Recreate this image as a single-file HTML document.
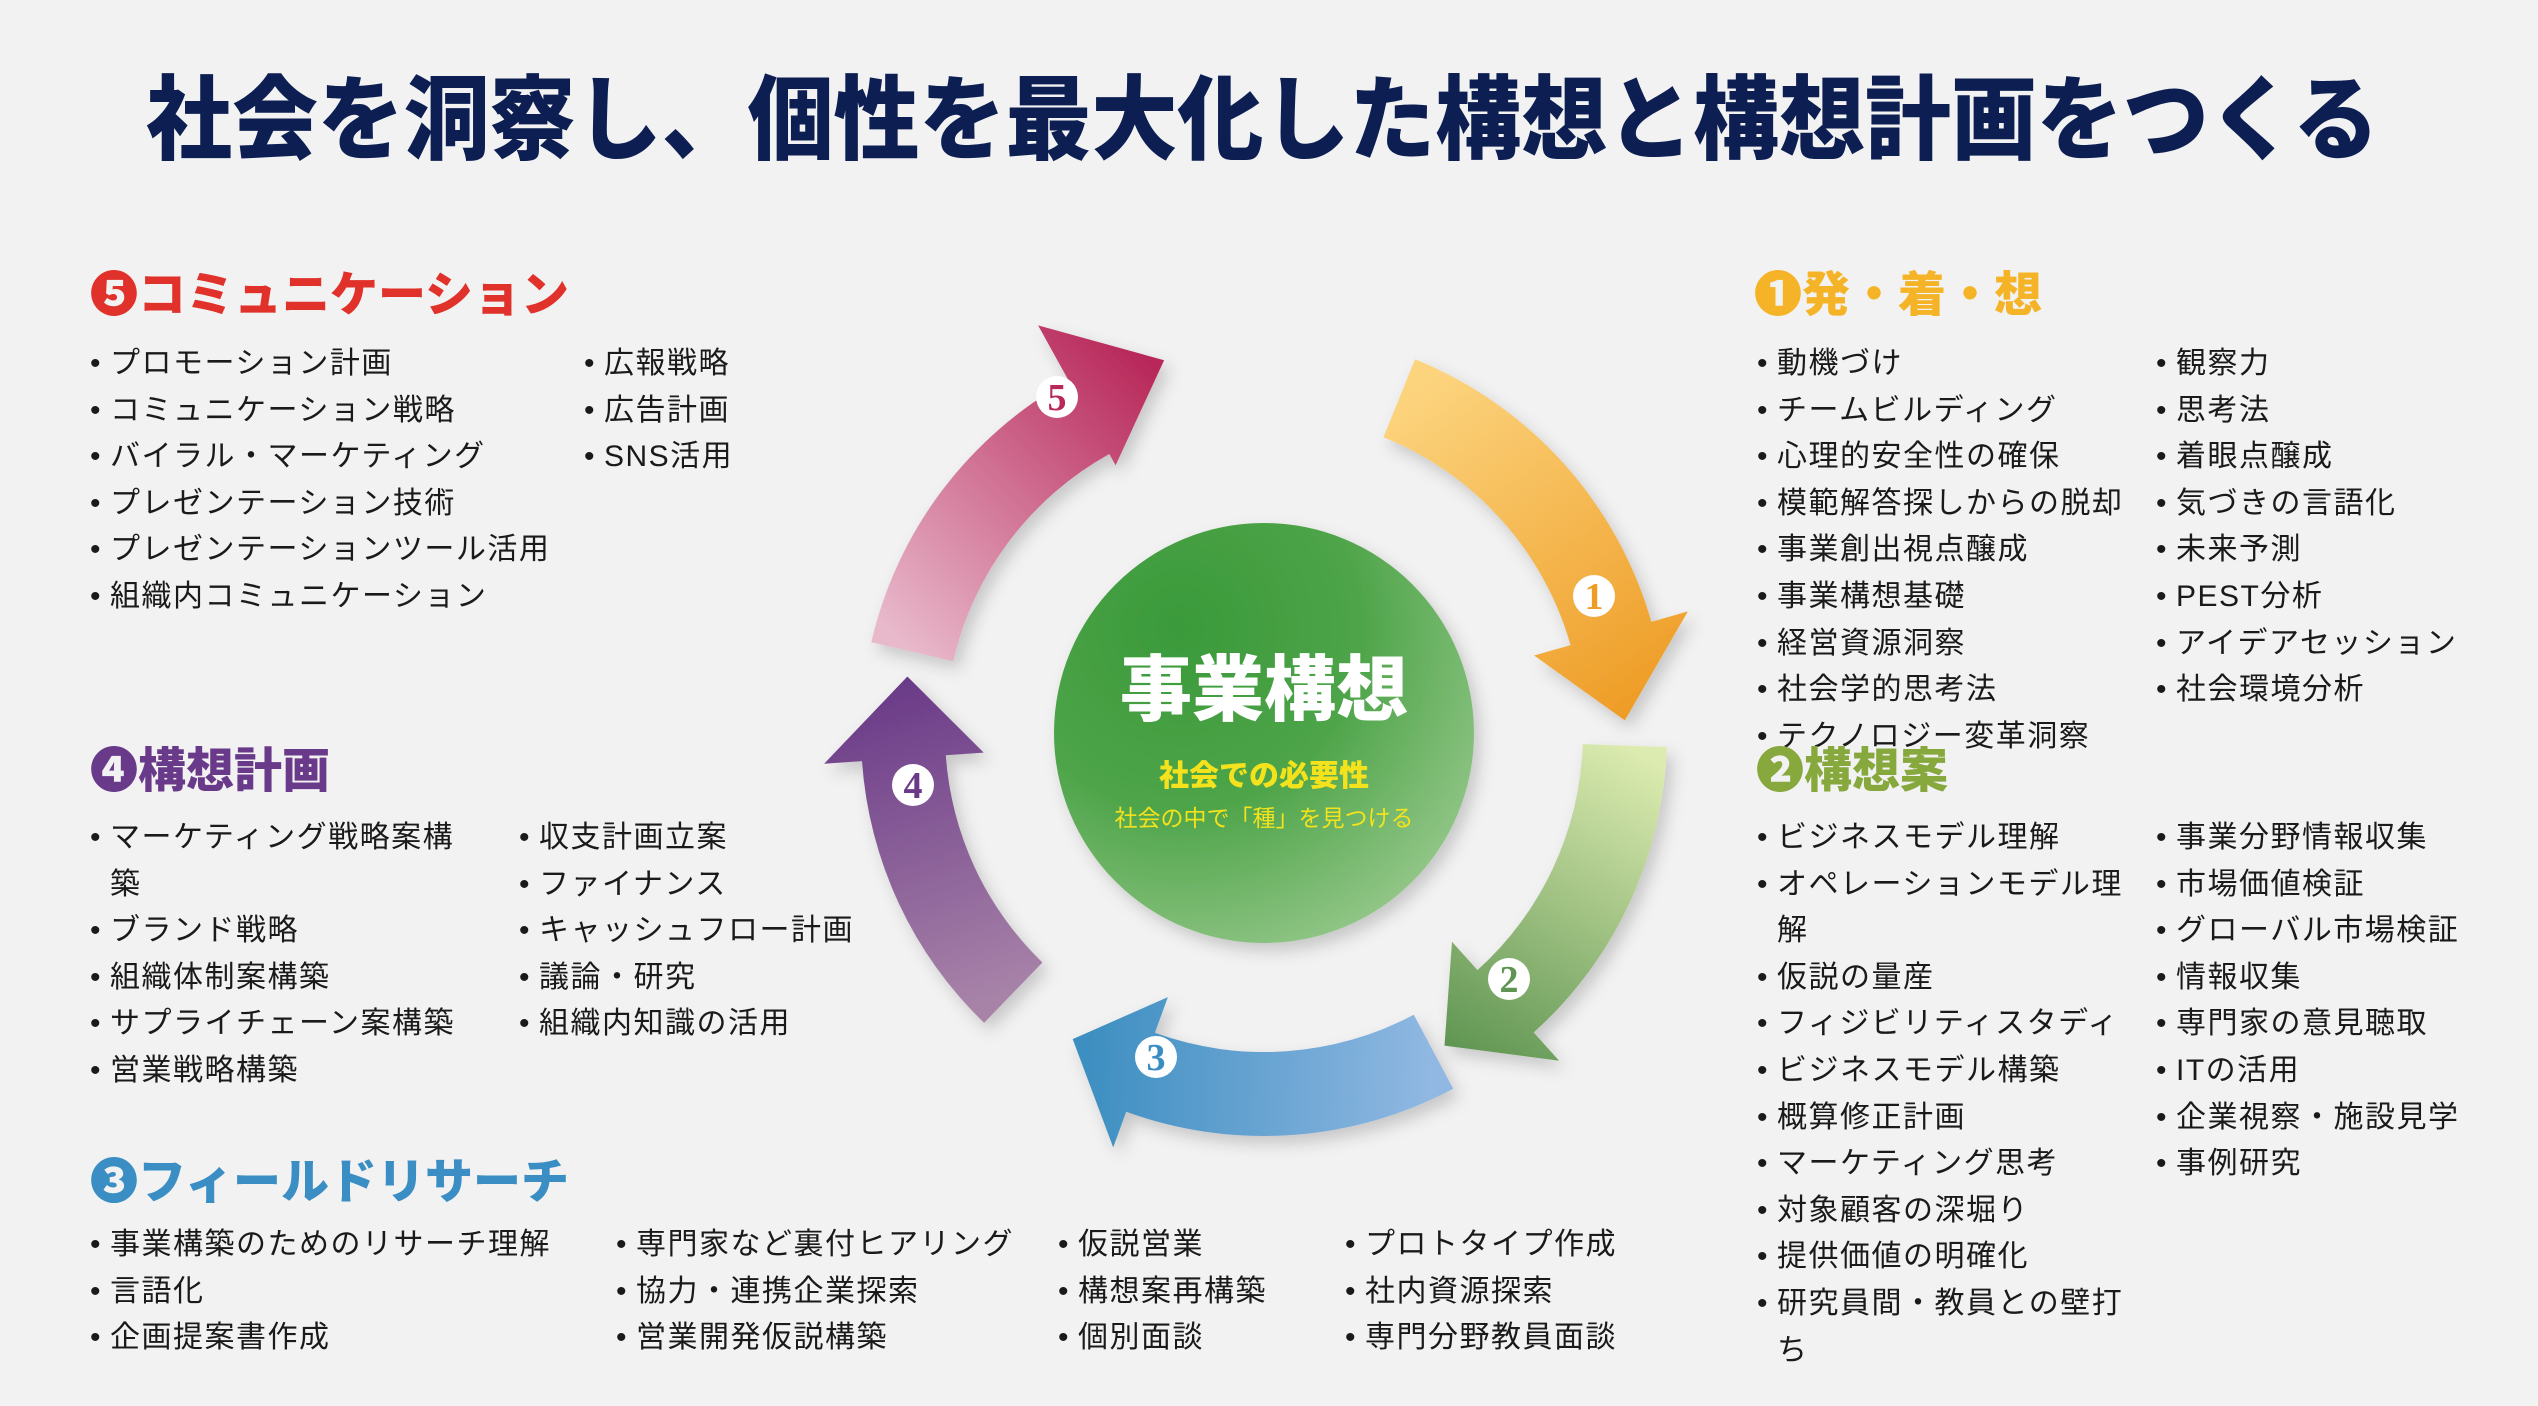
<!DOCTYPE html>
<html><head><meta charset="utf-8">
<style>
html,body{margin:0;padding:0;}
body{width:2538px;height:1406px;background:#f2f2f2;position:relative;overflow:hidden;font-family:"Liberation Sans","Noto Sans CJK JP",sans-serif;}
.title{position:absolute;left:146px;top:58px;font-size:92px;font-weight:900;color:#0d1f52;white-space:nowrap;line-height:126px;transform-origin:0 50%;}
.h{position:absolute;font-size:48px;font-weight:900;white-space:nowrap;line-height:60px;}
.col{position:absolute;font-size:30px;color:#1a1a1a;letter-spacing:1.5px;line-height:46.6px;white-space:nowrap;}
.col div{position:relative;padding-left:18px;}
.col div:before{content:"•";position:absolute;left:-2px;top:0;}
.col div.c:before{content:"";}
svg{position:absolute;left:0;top:0;}
</style></head><body>
<div class="title" id="tt">社会を洞察し、個性を最大化した構想と構想計画をつくる</div>

<div class="h" style="left:90px;top:266px;color:#e0312a">❺コミュニケーション</div>
<div class="col" style="left:92px;top:341px"><div>プロモーション計画</div><div>コミュニケーション戦略</div><div>バイラル・マーケティング</div><div>プレゼンテーション技術</div><div>プレゼンテーションツール活用</div><div>組織内コミュニケーション</div></div>
<div class="col" style="left:586px;top:341px"><div>広報戦略</div><div>広告計画</div><div>SNS活用</div></div>

<div class="h" style="left:90px;top:742px;color:#6a3a8a">❹構想計画</div>
<div class="col" style="left:92px;top:815px"><div>マーケティング戦略案構</div><div class="c">築</div><div>ブランド戦略</div><div>組織体制案構築</div><div>サプライチェーン案構築</div><div>営業戦略構築</div></div>
<div class="col" style="left:521px;top:815px"><div>収支計画立案</div><div>ファイナンス</div><div>キャッシュフロー計画</div><div>議論・研究</div><div>組織内知識の活用</div></div>

<div class="h" style="left:90px;top:1153px;color:#3b8ec4">❸フィールドリサーチ</div>
<div class="col" style="left:92px;top:1222px"><div>事業構築のためのリサーチ理解</div><div>言語化</div><div>企画提案書作成</div></div>
<div class="col" style="left:618px;top:1222px"><div>専門家など裏付ヒアリング</div><div>協力・連携企業探索</div><div>営業開発仮説構築</div></div>
<div class="col" style="left:1060px;top:1222px"><div>仮説営業</div><div>構想案再構築</div><div>個別面談</div></div>
<div class="col" style="left:1347px;top:1222px"><div>プロトタイプ作成</div><div>社内資源探索</div><div>専門分野教員面談</div></div>

<div class="h" style="left:1754px;top:266px;color:#f5b428">❶発・着・想</div>
<div class="col" style="left:1759px;top:341px"><div>動機づけ</div><div>チームビルディング</div><div>心理的安全性の確保</div><div>模範解答探しからの脱却</div><div>事業創出視点醸成</div><div>事業構想基礎</div><div>経営資源洞察</div><div>社会学的思考法</div><div>テクノロジー変革洞察</div></div>
<div class="col" style="left:2158px;top:341px"><div>観察力</div><div>思考法</div><div>着眼点醸成</div><div>気づきの言語化</div><div>未来予測</div><div>PEST分析</div><div>アイデアセッション</div><div>社会環境分析</div></div>

<div class="h" style="left:1756px;top:742px;color:#86a83c">❷構想案</div>
<div class="col" style="left:1759px;top:815px"><div>ビジネスモデル理解</div><div>オペレーションモデル理</div><div class="c">解</div><div>仮説の量産</div><div>フィジビリティスタディ</div><div>ビジネスモデル構築</div><div>概算修正計画</div><div>マーケティング思考</div><div>対象顧客の深堀り</div><div>提供価値の明確化</div><div>研究員間・教員との壁打</div><div class="c">ち</div></div>
<div class="col" style="left:2158px;top:815px"><div>事業分野情報収集</div><div>市場価値検証</div><div>グローバル市場検証</div><div>情報収集</div><div>専門家の意見聴取</div><div>ITの活用</div><div>企業視察・施設見学</div><div>事例研究</div></div>

<svg width="2538" height="1406" viewBox="0 0 2538 1406" id="s">
<defs>
<radialGradient id="cg" cx="0.3" cy="0.25" r="0.95">
<stop offset="0" stop-color="#3a9a3a"/><stop offset="0.45" stop-color="#4ea449"/><stop offset="1" stop-color="#a6d09a"/>
</radialGradient>
<filter id="sh" x="-20%" y="-20%" width="140%" height="140%"><feDropShadow dx="6" dy="8" stdDeviation="8" flood-color="#000" flood-opacity="0.18"/></filter>
</defs>
<g id="arrows"></g>
<circle cx="1264" cy="733" r="210" fill="url(#cg)" filter="url(#sh)"/>
<text x="1264" y="715" text-anchor="middle" font-size="72" font-weight="900" fill="#fff" font-family="Liberation Sans,Noto Sans CJK JP,sans-serif">事業構想</text>
<text x="1264" y="786" text-anchor="middle" font-size="30" font-weight="900" fill="#f3e21c" font-family="Liberation Sans,Noto Sans CJK JP,sans-serif">社会での必要性</text>
<text x="1264" y="826" text-anchor="middle" font-size="23" fill="#f3e21c" font-family="Liberation Sans,Noto Sans CJK JP,sans-serif">社会の中で「種」を見つける</text>
<g id="nums"></g>
</svg>
<script>
var t=document.getElementById('tt');var w=t.getBoundingClientRect().width;t.style.transform='scaleX('+(2233/w)+')';
var cx=1264,cy=733,R=361,W=42,HW=80;
function P(r,t){var a=t*Math.PI/180;return [(cx+r*Math.sin(a)).toFixed(1),(cy-r*Math.cos(a)).toFixed(1)];}
var arrows=[
 [22,74,88,'#fcd47e','#ee9c25',0],
 [92,138,150,'#dcebb0','#5f9552',0],
 [152,200,212,'#90b8e2','#3a8dc0',0],
 [224,266,279,'#a883a8','#6a3a88',0],
 [283,331,345,'#e8b8cb','#b8285a',25]
];
var g=document.getElementById('arrows'),ns='http://www.w3.org/2000/svg',defs=document.querySelector('defs');
arrows.forEach(function(a,i){
 var t0=a[0],tb=a[1],tt=a[2],off=a[5];
 var lg=document.createElementNS(ns,'linearGradient');lg.setAttribute('id','ag'+i);lg.setAttribute('gradientUnits','userSpaceOnUse');
 var p0=P(R,t0),p1=P(R,tt);lg.setAttribute('x1',p0[0]);lg.setAttribute('y1',p0[1]);lg.setAttribute('x2',p1[0]);lg.setAttribute('y2',p1[1]);
 lg.innerHTML='<stop offset="0" stop-color="'+a[3]+'"/><stop offset="1" stop-color="'+a[4]+'"/>';defs.appendChild(lg);
 var A=P(R+W,t0),B=P(R+W,tb),C=P(R+HW+off,tb),T=P(R+off,tt),D=P(R-HW+off,tb),E=P(R-W,tb),F=P(R-W,t0);
 var d='M'+A+' A'+(R+W)+' '+(R+W)+' 0 0 1 '+B+' L'+C+' L'+T+' L'+D+' L'+E+' A'+(R-W)+' '+(R-W)+' 0 0 0 '+F+' Z';
 var p=document.createElementNS(ns,'path');p.setAttribute('d',d);p.setAttribute('fill','url(#ag'+i+')');p.setAttribute('filter','url(#sh)');g.appendChild(p);
});
var nums=[[1594,596,'1','#ee9c25'],[1509,979,'2','#5f9552'],[1156,1057,'3','#3a8dc0'],[913,785,'4','#6a3a88'],[1057,397,'5','#b8285a']];
var ng=document.getElementById('nums');
nums.forEach(function(n){
 ng.innerHTML+='<circle cx="'+n[0]+'" cy="'+n[1]+'" r="21" fill="#fff"/><text x="'+n[0]+'" y="'+(n[1]+13)+'" text-anchor="middle" font-size="38" font-weight="bold" fill="'+n[3]+'" font-family="Liberation Serif,serif">'+n[2]+'</text>';
});
</script>
</body></html>
